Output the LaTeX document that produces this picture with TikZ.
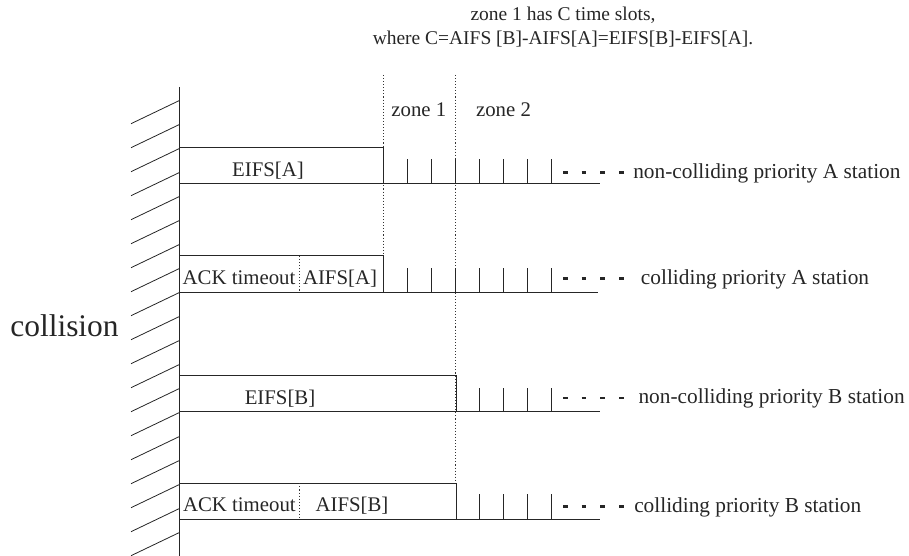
\documentclass[tikz,border=0pt]{standalone}
\usepackage{fontspec}
\setmainfont{Liberation Serif}
\usepackage{tikz}
\usetikzlibrary{positioning}

\tikzset{
  slotline/.style={line width=0.75pt, black!85},
  zoneline/.style={line width=0.6pt, black!80, dash pattern=on 0.8pt off 1.5pt},
  moreslots/.style={line width=1.9pt, black!85, dash pattern=on 3.6pt off 10.4pt},
  lbl/.style={font=\fontsize{15.6}{18}\selectfont, text=black!85, inner sep=0pt, anchor=base},
  station/.style={lbl, font=\fontsize{16}{18}\selectfont, anchor=base west},
}

\begin{document}
\begin{tikzpicture}[x=0.75pt, y=-0.75pt]
  \useasboundingbox (0,0) rectangle (909,556);

  % the note on top
  \node[lbl, font=\fontsize{14.6}{18}\selectfont] (note1) at (563,21) {zone 1 has C time slots,};
  \node[lbl, font=\fontsize{14.6}{18}\selectfont] (note2) at (563,45) {where C=AIFS [B]-AIFS[A]=EIFS[B]-EIFS[A].};

  % collision wall with hatching
  \draw[slotline] (179,87) -- (179,556);
  \foreach \y in {100.7,124.7,...,533} \draw[slotline, line width=0.6pt] (179,\y) -- ++(-48,23);
  \node[lbl, font=\fontsize{23.6}{28}\selectfont] (collision) at (64.5,336) {collision};

  % zone borders
  \draw[zoneline] (383.3,75) -- (383.3,292);
  \draw[zoneline] (455.7,75) -- (455.7,483.3);
  \node[lbl] (zone1) at (418.8,117) {zone 1};
  \node[lbl] (zone2) at (503.5,117) {zone 2};

  % non-colliding priority A station
  \draw[slotline] (179,147.7) -- (383.3,147.7) -- (383.3,183.3);
  \draw[slotline] (179,183.3) -- (600,183.3);
  \foreach \x in {407.3,431.3,...,552} \draw[slotline] (\x,183.3) -- ++(0,-24);
  \draw[moreslots] (563,172.7) -- ++(64,0);
  \node[lbl] (eifsA) at (268,176.5) {EIFS[A]};
  \node[station] (ncA) at (633,178) {non-colliding priority A station};

  % colliding priority A station
  \draw[slotline] (179,255.7) -- (383.3,255.7) -- (383.3,292);
  \draw[slotline] (179,292) -- (598,292);
  \draw[zoneline] (299.3,255.7) -- (299.3,292);
  \foreach \x in {407.3,431.3,...,552} \draw[slotline] (\x,292) -- ++(0,-24);
  \draw[moreslots] (563,278.3) -- ++(64,0);
  \node[lbl] (ackA) at (239,284) {ACK timeout};
  \node[lbl] (aifsA) at (340,284) {AIFS[A]};
  \node[station] (cA) at (640.7,284) {colliding priority A station};

  % non-colliding priority B station
  \draw[slotline] (179,375.7) -- (456,375.7) -- (456,411.7);
  \draw[slotline] (179,411.7) -- (600,411.7);
  \foreach \x in {479.3,503.3,...,552} \draw[slotline] (\x,411.7) -- ++(0,-24);
  \draw[moreslots] (563,398) -- ++(64,0);
  \node[lbl] (eifsB) at (280,404) {EIFS[B]};
  \node[station] (ncB) at (638.3,403.5) {non-colliding priority B station};

  % colliding priority B station
  \draw[slotline] (179,483.3) -- (456,483.3) -- (456,519.3);
  \draw[slotline] (179,519.3) -- (600,519.3);
  \draw[zoneline] (299.3,483.3) -- (299.3,519.3);
  \foreach \x in {479.3,503.3,...,552} \draw[slotline] (\x,519.3) -- ++(0,-25);
  \draw[moreslots] (563,506.7) -- ++(64,0);
  \node[lbl] (ackB) at (239.4,511.7) {ACK timeout};
  \node[lbl] (aifsB) at (352,511.7) {AIFS[B]};
  \node[station] (cB) at (634,512) {colliding priority B station};
\end{tikzpicture}
\end{document}
